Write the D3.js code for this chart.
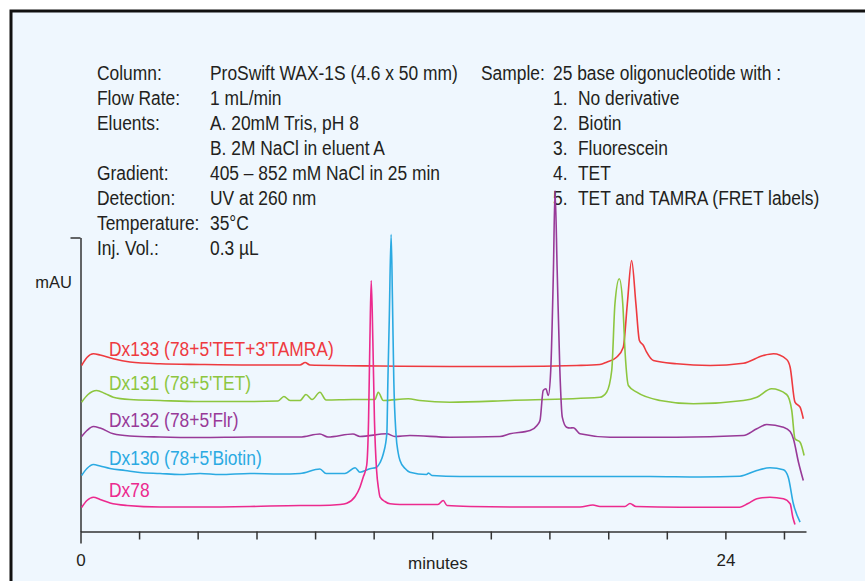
<!DOCTYPE html>
<html>
<head>
<meta charset="utf-8">
<script src="https://cdn.jsdelivr.net/npm/d3@7/dist/d3.min.js"></script>
<style>
  html, body { margin: 0; padding: 0; background: #ffffff; }
  svg { display: block; }
  text { font-family: "Liberation Sans", Arial, Helvetica, sans-serif; }
</style>
</head>
<body>
<svg id="chart" width="865" height="581"></svg>
<script>
// ---------- data ----------
const seriesNames = ["Dx133 (78+5'TET+3'TAMRA)", "Dx131 (78+5'TET)", "Dx132 (78+5'Flr)", "Dx130 (78+5'Biotin)", "Dx78"];
const seriesColors = ["#EE3A3F", "#8DC63F", "#983A98", "#2BAAE2", "#EC2A8E"];

// [minutes, mAU (stacked display value)]
const dx133 = [[0.04,166],[0.24,174],[0.48,177.7],[0.73,176.5],[1.22,172.7],[1.84,169.5],[2.96,167.7],[4.45,167],[6.31,166.5],[8.17,166.5],[8.36,169],[8.54,166.5],[11.15,165.5],[13.75,165],[15.98,165],[18.47,166],[19.33,167],[19.58,169.3],[19.95,174.3],[20.2,184.3],[20.35,227.7],[20.51,271],[20.67,227.7],[20.8,191],[20.95,186],[21.07,179.3],[21.32,171],[22.19,167.7],[23.43,166],[24.67,168.3],[25.41,176],[25.79,177.7],[26.28,172],[26.41,164.3],[26.59,129.3],[26.78,124.3],[26.9,112.7]];
const dx131 = [[0.04,129.3],[0.28,137],[0.6,141],[0.91,138],[1.22,134.3],[1.84,132],[2.96,131],[4.45,130],[6.31,130],[7.35,130.5],[7.57,135],[7.8,131],[8.17,131],[8.39,137],[8.62,132],[8.91,139.3],[9.14,131.5],[10.14,132],[10.96,132],[11.08,139.3],[11.27,131],[12.2,132.7],[12.63,131],[13.75,129.3],[15.98,131],[19.33,134.3],[19.58,139.3],[19.77,161],[19.89,227.7],[20.05,252.7],[20.18,228],[20.27,178],[20.39,146],[20.7,139.3],[21.57,131],[22.81,127.7],[24.67,131],[25.17,134.3],[25.72,142.7],[26.28,137],[26.47,121],[26.59,92.7],[26.78,89.3],[26.93,76]];
const dx132 = [[0.04,95],[0.24,101],[0.48,105],[0.73,103.5],[1.22,97.7],[1.84,95.5],[2.96,94.5],[4.45,94],[6.31,94.5],[8.17,94.5],[8.91,97.5],[9.21,94.5],[10.14,97.5],[10.4,95],[11.4,97.7],[11.7,95],[12.26,96],[13.75,94.3],[15.61,95],[15.98,97.7],[16.73,101],[16.99,106],[17.1,111],[17.22,141],[17.32,142.7],[17.41,136],[17.5,161],[17.6,261],[17.66,341],[17.74,261],[17.84,161],[17.93,114.3],[18.09,104.3],[18.22,103.5],[18.34,103.7],[18.59,97.7],[19.71,94.3],[22.19,94.3],[24.67,96],[25.17,102.7],[25.54,107],[26.16,104.3],[26.41,100],[26.53,92.7],[26.72,69.3],[26.9,51]];
const dx130 = [[0.04,56],[0.24,63],[0.48,67],[0.73,65.5],[1.1,63],[1.66,61],[2.21,59],[2.96,58],[3.7,57],[4.45,58],[5.19,57],[6.31,58],[7.42,57.5],[8.17,58],[8.91,62.5],[9.14,58],[9.84,58],[10.22,63.7],[10.4,59.3],[10.77,62.7],[11.02,64.3],[11.15,69],[11.27,77.7],[11.4,97.7],[11.44,151],[11.49,211],[11.56,297],[11.61,231],[11.66,151],[11.74,98],[11.82,79],[11.89,71],[12.08,63],[12.26,59.3],[12.88,57],[12.95,58.5],[13.08,56],[14.12,55],[15.61,55],[17.47,55],[19.33,55],[21.19,55],[23.06,54.5],[24.54,55.3],[25.17,61],[25.66,63.7],[26.16,61.7],[26.34,54.3],[26.53,27.7],[26.78,9.3]];
const dx78 = [[0.04,24],[0.24,31],[0.48,34.3],[0.73,32],[1.1,28.5],[1.73,26],[2.96,24.5],[4.45,24.5],[6.31,25],[8.17,26],[8.91,26],[9.66,27],[9.91,28.3],[10.22,35],[10.4,44.3],[10.52,54.3],[10.65,66],[10.72,111],[10.77,191],[10.82,251],[10.88,191],[10.94,111],[11.02,61],[11.09,43],[11.15,34.3],[11.33,30],[11.52,27.7],[11.89,27],[12.63,27],[13.3,27],[13.5,31],[13.64,26],[14.5,25],[16.36,24.5],[18.59,24.5],[19.07,26.5],[19.33,25],[20.26,25],[20.45,28],[20.67,25],[22.31,24.3],[23.8,24.3],[24.54,24.3],[24.84,28],[25.17,32.7],[25.66,34.3],[26.16,32.7],[26.41,27.7],[26.51,14.3],[26.59,7]];
const seriesData = [dx133, dx131, dx132, dx130, dx78];

const xTicks = [0, 2.18, 4.36, 6.55, 8.73, 10.91, 13.09, 15.27, 17.45, 19.64, 21.82, 24, 26.18];
const xTickLabels = {0: "0", 24: "24"};
const xLabel = "minutes";
const yLabel = "mAU";

const condLeftLabels = ["Column:", "Flow Rate:", "Eluents:", "", "Gradient:", "Detection:", "Temperature:", "Inj. Vol.:"];
const condLeftValues = ["ProSwift WAX-1S (4.6 x 50 mm)", "1 mL/min", "A. 20mM Tris, pH 8", "B. 2M NaCl in eluent A", "405 \u2013 852 mM NaCl in 25 min", "UV at 260 nm", "35\u00B0C", "0.3 \u00B5L"];
const sampleHead = ["Sample:", "25 base oligonucleotide with :"];
const sampleNums = ["1.", "2.", "3.", "4.", "5."];
const sampleItems = ["No derivative", "Biotin", "Fluorescein", "TET", "TET and TAMRA (FRET labels)"];

// ---------- drawing ----------
const svg = d3.select("#chart");
const W = 865, H = 581;

svg.append("rect").attr("x", 0).attr("y", 0).attr("width", W).attr("height", H).attr("fill", "#ffffff");
svg.append("rect").attr("x", 11).attr("y", 11).attr("width", W + 20).attr("height", H + 20)
  .attr("fill", "#EFF7FE").attr("stroke", "#111").attr("stroke-width", 3);

const x = d3.scaleLinear().domain([0, 27]).range([80.5, 806]);
const y = d3.scaleLinear().domain([0, 294]).range([531.5, 237.5]);

const TEXT = "#231F20";
const SX = 0.87;
function ctext(px, py, str, color, size) {
  return svg.append("text")
    .attr("transform", `translate(${px},${py}) scale(${SX},1)`)
    .attr("font-size", size || 20)
    .attr("fill", color || TEXT)
    .text(str);
}

// conditions text
const rowY = [80, 105, 130, 155, 180, 205, 230, 255];
condLeftLabels.forEach((s, i) => { if (s) ctext(97, rowY[i], s); });
condLeftValues.forEach((s, i) => ctext(210, rowY[i], s));
ctext(481, rowY[0], sampleHead[0]);
ctext(553, rowY[0], sampleHead[1]);
sampleNums.forEach((s, i) => ctext(553, rowY[i + 1], s));
sampleItems.forEach((s, i) => ctext(578, rowY[i + 1], s));

// axes
const xAxis = d3.axisBottom(x).tickValues(xTicks).tickSize(8).tickSizeOuter(0)
  .tickFormat(d => xTickLabels[d] !== undefined ? xTickLabels[d] : "");
const gx = svg.append("g").attr("transform", `translate(0,${y(0)})`).call(xAxis);
gx.select(".domain").attr("stroke", "#333").attr("stroke-width", 1.5);
gx.selectAll(".tick line").attr("stroke", "#333").attr("stroke-width", 1.5);
gx.selectAll(".tick").filter(d => d === 0).select("line").attr("y2", 12);
gx.selectAll(".tick text").attr("font-size", 17).attr("fill", TEXT)
  .attr("font-family", "Liberation Sans, Arial, sans-serif").attr("dy", "0").attr("y", 34);

const yAxis = d3.axisLeft(y).tickValues([294]).tickSize(10).tickSizeOuter(0).tickFormat("");
const gy = svg.append("g").attr("transform", `translate(${x(0)},0)`).call(yAxis);
gy.select(".domain").attr("stroke", "#333").attr("stroke-width", 1.5);
gy.selectAll(".tick line").attr("stroke", "#333").attr("stroke-width", 1.5);

svg.append("text").attr("x", x(13.3)).attr("y", 569).attr("text-anchor", "middle")
  .attr("font-size", 17).attr("fill", TEXT).text(xLabel);
svg.append("text").attr("x", 72).attr("y", 288).attr("text-anchor", "end")
  .attr("font-size", 16.5).attr("fill", TEXT).text(yLabel);

// traces
const line = d3.line().x(d => x(d[0])).y(d => y(d[1])).curve(d3.curveMonotoneX);
seriesData.forEach((data, i) => {
  svg.append("path").datum(data).attr("d", line)
    .attr("fill", "none").attr("stroke", seriesColors[i])
    .attr("stroke-width", 1.6).attr("stroke-linejoin", "round");
});

// trace labels
const labelY = [356, 390, 427, 465, 497];
seriesNames.forEach((s, i) => ctext(109, labelY[i], s, seriesColors[i]));
</script>
</body>
</html>
